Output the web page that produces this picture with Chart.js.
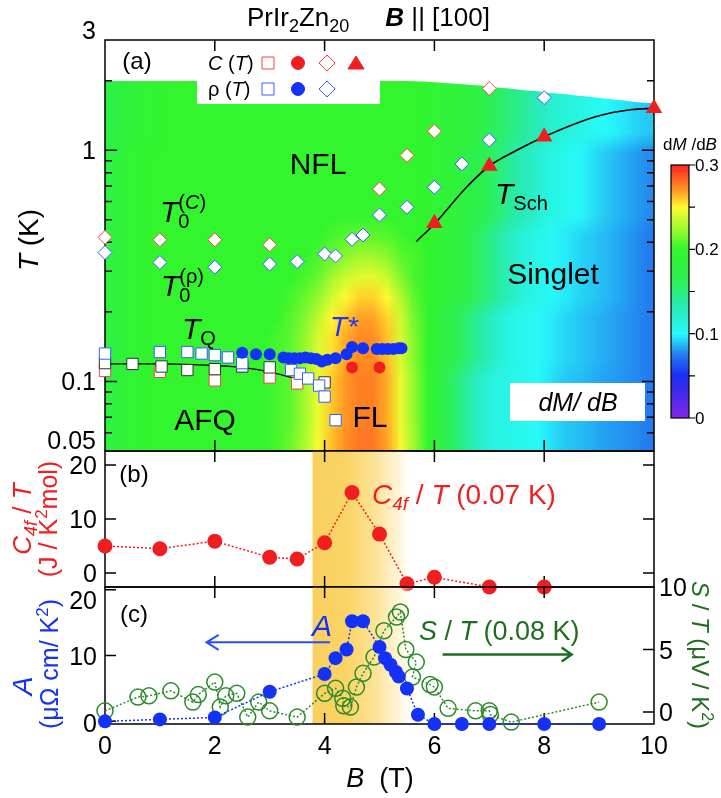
<!DOCTYPE html>
<html>
<head>
<meta charset="utf-8">
<script src="https://cdn.jsdelivr.net/npm/chart.js"></script>
<style>
  html, body { margin: 0; padding: 0; background: #fff; }
  #wrap { position: relative; width: 721px; height: 798px; }
  #wrap canvas { position: absolute; left: 0; top: 0; }
</style>
</head>
<body>
<div id="wrap">
  <canvas id="chartA" width="721" height="798"></canvas>
  <canvas id="chartB" width="721" height="798"></canvas>
  <canvas id="chartC" width="721" height="798"></canvas>
</div>
<script>
/* PrIr2Zn20, B || [100] : phase diagram (a), C4f/T (b), A and S/T (c) */

const FONT = '"Liberation Sans", Arial, Helvetica, sans-serif';
const RED = '#f01e1e', BLUE = '#1432f5', GREEN = '#2b8a2b';

// ---- axes
const bTicks = [0, 2, 4, 6, 8, 10];
const tTicksA = [0.05, 0.1, 1, 3];
const tMinorA = [0.06, 0.07, 0.08, 0.09, 0.2, 0.3, 0.4, 0.5, 0.6, 0.7, 0.8, 0.9, 2];
const c4fTicks = [0, 10, 20];
const aTicks = [0, 10, 20];
const stTicks = [0, 5, 10];
const cbarTicks = [0, 0.05, 0.1, 0.15, 0.2, 0.25, 0.3];
const cbarLabels = [0, 0.1, 0.2, 0.3];

// ---- panel (a) points
const tcB = [0, 1, 2, 3, 5, 5.5, 6, 7];                      // T0(C), open red diamonds
const tcT = [0.42, 0.41, 0.41, 0.39, 0.68, 0.95, 1.21, 1.85];
const trB = [0, 1, 2, 3, 3.5, 4, 4.2, 4.5, 4.7, 5, 5.5, 6, 6.5, 7, 8];   // T0(rho), open blue diamonds
const trT = [0.361, 0.327, 0.312, 0.322, 0.330, 0.356, 0.349, 0.412, 0.430, 0.525, 0.567, 0.692, 0.873, 1.108, 1.69];
const tschB = [6, 7, 8, 10];                                 // T_Sch, red triangles
const tschT = [0.483, 0.855, 1.145, 1.52];
const tschFitB = [5.67, 6.0, 6.58, 7.0, 7.5, 8.0, 8.95, 9.6, 10];
const tschFitT = [0.403, 0.48, 0.69, 0.855, 1.0, 1.145, 1.40, 1.50, 1.52];
const tstarB = [2.5, 2.75, 3.0, 3.25, 3.35, 3.45, 3.55, 3.65, 3.75, 3.85, 3.95, 4.05, 4.2, 4.4, 4.5, 4.7, 4.95, 5.05, 5.15, 5.25, 5.35, 5.4];
const tstarT = [0.133, 0.131, 0.131, 0.127, 0.126, 0.126, 0.126, 0.127, 0.126, 0.125, 0.122, 0.124, 0.126, 0.131, 0.141, 0.139, 0.138, 0.138, 0.138, 0.138, 0.139, 0.139];
const tflB = [4.5, 5.0];                                     // red filled circles
const tflT = [0.115, 0.115];
const sqBlueB = [0, 1, 1.5, 1.76, 2, 2.24, 2.5, 3.39, 3.55, 3.7, 3.9, 4.0, 4.2];
const sqBlueT = [0.132, 0.134, 0.134, 0.132, 0.130, 0.127, 0.120, 0.112, 0.108, 0.103, 0.096, 0.086, 0.068];
const sqBlackB = [0, 0.5, 1.03, 1.5, 2, 2.5, 3, 4.0];
const sqBlackT = [0.120, 0.119, 0.116, 0.112, 0.113, 0.116, 0.115, 0.099];
const sqRedB = [0, 1, 2, 3, 3.5];
const sqRedT = [0.111, 0.110, 0.101, 0.104, 0.098];
const tqFitB = [0, 1, 2, 2.5, 3, 3.45];
const tqFitT = [0.119, 0.119, 0.117, 0.115, 0.110, 0.103];

// ---- panel (a) dM/dB map: column edges in B, row edges in T, one row per T band (bottom first)
const heatB = [0, 0.25, 0.5, 0.75, 1, 1.25, 1.5, 1.75, 2, 2.25, 2.5, 2.75, 3, 3.25, 3.5, 3.75, 4, 4.25, 4.5, 4.75,
               5, 5.25, 5.5, 5.75, 6, 6.25, 6.5, 6.75, 7, 7.25, 7.5, 7.75, 8, 8.25, 8.5, 8.75, 9, 9.25, 9.5, 9.75, 10];
const heatT = [0.05, 0.0614, 0.0753, 0.0925, 0.1135, 0.139, 0.171, 0.21, 0.258, 0.316, 0.388, 0.476, 0.585, 0.718, 0.881, 1.08, 1.33, 1.63, 2.0];
const heatTop = [2, 2, 2, 2, 2, 2, 2, 2, 2, 2, 2, 2, 2, 2, 2, 2, 2, 2, 2, 2, 2, 2,
                 1.99, 1.98, 1.96, 1.94, 1.92, 1.9, 1.87, 1.85, 1.82, 1.8, 1.77, 1.75, 1.72, 1.7, 1.67, 1.65, 1.62, 1.6];
const heatRows = [
  [0.18,0.19,0.195,0.2,0.2,0.2,0.2,0.2,0.2,0.2,0.2,0.2, 0.205,0.213,0.228,0.248,0.262,0.272,0.278,0.278,0.268,0.248, 0.224,0.198,0.175,0.155,0.135,0.12,0.11,0.108,0.105,0.1,0.095,0.09,0.088,0.085,0.082,0.08,0.078,0.075],
  [0.18,0.19,0.195,0.2,0.2,0.2,0.2,0.2,0.2,0.2,0.2,0.2, 0.205,0.21,0.225,0.245,0.26,0.27,0.276,0.276,0.266,0.245, 0.222,0.197,0.175,0.155,0.135,0.12,0.11,0.108,0.105,0.1,0.095,0.09,0.088,0.085,0.082,0.08,0.078,0.075],
  [0.18,0.19,0.195,0.2,0.2,0.2,0.2,0.2,0.2,0.2,0.2,0.2, 0.205,0.21,0.225,0.245,0.26,0.27,0.276,0.276,0.266,0.245, 0.222,0.197,0.175,0.155,0.135,0.12,0.11,0.108,0.105,0.1,0.095,0.09,0.088,0.085,0.082,0.08,0.078,0.075],
  [0.18,0.19,0.195,0.2,0.2,0.2,0.2,0.2,0.2,0.2,0.2,0.2, 0.205,0.21,0.225,0.245,0.26,0.27,0.276,0.276,0.266,0.245, 0.222,0.197,0.175,0.155,0.135,0.12,0.11,0.108,0.105,0.1,0.095,0.09,0.088,0.085,0.082,0.08,0.078,0.075],
  [0.18,0.19,0.195,0.2,0.2,0.2,0.2,0.2,0.2,0.2,0.2,0.2, 0.205,0.21,0.222,0.24,0.255,0.266,0.273,0.273,0.262,0.24, 0.218,0.2,0.18,0.165,0.15,0.135,0.12,0.11,0.105,0.1,0.097,0.093,0.09,0.087,0.084,0.081,0.078,0.075],
  [0.18,0.19,0.195,0.2,0.2,0.2,0.2,0.2,0.2,0.2,0.2,0.2, 0.205,0.21,0.222,0.24,0.255,0.266,0.273,0.273,0.262,0.24, 0.218,0.2,0.18,0.165,0.15,0.135,0.12,0.11,0.105,0.1,0.097,0.093,0.09,0.087,0.084,0.081,0.078,0.075],
  [0.18,0.19,0.195,0.2,0.2,0.2,0.2,0.2,0.2,0.2,0.2,0.2, 0.2,0.208,0.218,0.232,0.25,0.26,0.268,0.268,0.258,0.238, 0.215,0.2,0.18,0.165,0.15,0.135,0.12,0.11,0.105,0.1,0.097,0.093,0.09,0.087,0.084,0.081,0.078,0.075],
  [0.18,0.19,0.195,0.2,0.2,0.2,0.2,0.2,0.2,0.2,0.2,0.2, 0.2,0.205,0.212,0.222,0.238,0.25,0.258,0.258,0.25,0.23, 0.21,0.2,0.19,0.18,0.17,0.155,0.14,0.125,0.115,0.108,0.102,0.097,0.093,0.09,0.087,0.083,0.079,0.075],
  [0.18,0.19,0.195,0.2,0.2,0.2,0.2,0.2,0.2,0.2,0.2,0.2, 0.2,0.2,0.205,0.212,0.225,0.235,0.242,0.242,0.235,0.218, 0.205,0.2,0.19,0.18,0.17,0.155,0.14,0.125,0.115,0.108,0.102,0.097,0.093,0.09,0.087,0.083,0.079,0.075],
  [0.18,0.19,0.195,0.2,0.2,0.2,0.2,0.2,0.2,0.2,0.2,0.2, 0.2,0.2,0.2,0.205,0.212,0.22,0.225,0.225,0.22,0.21, 0.205,0.2,0.19,0.18,0.17,0.155,0.14,0.125,0.115,0.108,0.102,0.097,0.093,0.09,0.087,0.083,0.079,0.075],
  [0.18,0.19,0.195,0.2,0.2,0.2,0.2,0.2,0.2,0.2,0.2,0.2, 0.2,0.2,0.2,0.2,0.205,0.208,0.21,0.21,0.208,0.203, 0.2,0.2,0.19,0.18,0.17,0.155,0.14,0.125,0.115,0.108,0.102,0.097,0.093,0.09,0.087,0.083,0.079,0.075],
  [0.18,0.19,0.195,0.2,0.2,0.2,0.2,0.2,0.2,0.2,0.2,0.2, 0.2,0.2,0.2,0.2,0.2,0.2,0.2,0.2,0.2,0.2, 0.2,0.195,0.19,0.185,0.175,0.165,0.155,0.14,0.13,0.12,0.11,0.105,0.1,0.095,0.09,0.086,0.082,0.078],
  [0.18,0.19,0.195,0.2,0.2,0.2,0.2,0.2,0.2,0.2,0.2,0.2, 0.2,0.2,0.2,0.2,0.2,0.2,0.2,0.2,0.2,0.2, 0.2,0.195,0.19,0.185,0.175,0.165,0.155,0.14,0.13,0.12,0.11,0.105,0.1,0.095,0.09,0.086,0.082,0.078],
  [0.18,0.19,0.195,0.2,0.2,0.2,0.2,0.2,0.2,0.2,0.2,0.2, 0.2,0.2,0.2,0.2,0.2,0.2,0.2,0.2,0.2,0.2, 0.2,0.195,0.19,0.185,0.175,0.165,0.155,0.14,0.13,0.12,0.11,0.105,0.1,0.095,0.09,0.086,0.082,0.078],
  [0.18,0.19,0.195,0.2,0.2,0.2,0.2,0.2,0.2,0.2,0.2,0.2, 0.2,0.2,0.2,0.2,0.2,0.2,0.2,0.2,0.2,0.2, 0.2,0.195,0.19,0.185,0.175,0.165,0.155,0.14,0.13,0.12,0.11,0.105,0.1,0.095,0.09,0.086,0.082,0.078],
  [0.175,0.182,0.19,0.195,0.2,0.2,0.2,0.2,0.2,0.2,0.2,0.2, 0.2,0.2,0.2,0.2,0.2,0.2,0.2,0.2,0.2,0.2, 0.2,0.195,0.19,0.185,0.18,0.17,0.16,0.15,0.14,0.13,0.12,0.115,0.11,0.105,0.1,0.097,0.093,0.09],
  [0.175,0.182,0.19,0.195,0.2,0.2,0.2,0.2,0.2,0.2,0.2,0.2, 0.2,0.2,0.2,0.2,0.2,0.2,0.2,0.2,0.2,0.2, 0.2,0.195,0.19,0.185,0.18,0.17,0.16,0.15,0.14,0.13,0.12,0.115,0.11,0.105,0.1,0.097,0.093,0.09],
  [0.175,0.182,0.19,0.195,0.2,0.2,0.2,0.2,0.2,0.2,0.2,0.2, 0.2,0.2,0.2,0.2,0.2,0.2,0.2,0.2,0.2,0.2, 0.2,0.195,0.19,0.185,0.18,0.17,0.16,0.15,0.14,0.13,0.12,0.115,0.11,0.105,0.1,0.097,0.093,0.09]
];

// colour scale of dM/dB
const cmapV = [0, 0.05, 0.075, 0.1, 0.13, 0.165, 0.2, 0.225, 0.25, 0.27, 0.3];
const cmapC = [[130,40,230],[25,45,245],[35,125,240],[40,250,250],[40,235,185],[45,240,80],[50,245,45],[160,250,45],[255,250,50],[255,150,35],[255,35,35]];

// ---- panel (b)
const c4fB = [0, 1, 2, 3, 3.5, 4, 4.5, 5, 5.5, 6, 7, 8];
const c4fV = [5.0, 4.5, 5.9, 2.9, 2.6, 5.6, 14.9, 7.2, -2.0, -0.8, -2.6, -2.6];

// ---- panel (c)
const aB = [0, 1, 2, 3, 4, 4.2, 4.4, 4.5, 4.7, 5.0, 5.1, 5.2, 5.3, 5.35, 5.5, 5.7, 6, 6.5, 7, 8, 9];
const aV = [0.0, 0.3, 0.6, 4.5, 7.2, 9.6, 10.9, 15.2, 15.2, 11.3, 9.6, 8.6, 7.5, 6.8, 5.0, 1.0, -0.4, -0.4, -0.4, -0.4, -0.4];
const stB = [0, 0.6, 0.8, 1.2, 1.6, 1.7, 2.0, 2.1, 2.2, 2.4, 2.6, 2.8, 3.0, 3.5, 4.0, 4.2, 4.33, 4.35, 4.47, 4.58, 4.7, 4.9, 5.08, 5.31, 5.38, 5.48, 5.67, 5.6, 5.92, 6.0, 6.25, 6.75, 7.0, 7.02, 7.4, 9.0];
const stV = [0.1, 1.2, 1.3, 1.7, 0.8, 1.4, 2.4, 0.4, 1.3, 1.5, -0.4, 0.8, 0.1, -0.4, 1.5, 1.9, 1.1, 0.5, 0.4, 2.0, 3.1, 4.4, 6.5, 7.6, 8.0, 5.0, 4.0, 2.8, 2.2, 2.0, 0.3, 0.1, 0.1, -0.2, -0.8, 0.8];

const bandB = [3.78, 5.64];   // shaded crossover region

// ---------- helpers
const pts = (xs, ys) => xs.map((x, i) => ({ x, y: ys[i] }));

function cmap(v) {
  let i = 1;
  while (i < cmapV.length - 1 && v > cmapV[i]) i++;
  const f = Math.max(0, Math.min(1, (v - cmapV[i - 1]) / (cmapV[i] - cmapV[i - 1])));
  const c = cmapC[i - 1].map((a, k) => Math.round(a + (cmapC[i][k] - a) * f));
  return `rgb(${c})`;
}

// rich text: parts = [[text, flags]] flags: i italic, b bold, _ sub, ^ sup, ! no advance
function rich(ctx, x, y, parts, size, o = {}) {
  ctx.save();
  ctx.translate(x, y);
  if (o.rot) ctx.rotate(o.rot);
  ctx.textBaseline = 'alphabetic';
  ctx.textAlign = 'left';
  const spans = parts.map(([t, f = '']) => {
    const small = f.includes('_') || f.includes('^');
    const sz = small ? Math.round(size * 0.68) : size;
    const font = (f.includes('i') ? 'italic ' : '') + (f.includes('b') ? 'bold ' : '') + sz + 'px ' + FONT;
    ctx.font = font;
    const w = ctx.measureText(t).width;
    return { t, font, adv: f.includes('!') ? 0 : w, dy: f.includes('_') ? size * 0.22 : f.includes('^') ? -size * 0.42 : 0 };
  });
  const total = spans.reduce((s, p) => s + p.adv, 0);
  let cx = o.al === 'left' ? 0 : o.al === 'right' ? -total : -total / 2;
  const base = size * 0.36;
  ctx.fillStyle = o.c || '#000';
  spans.forEach(p => { ctx.font = p.font; ctx.fillText(p.t, cx, base + p.dy); cx += p.adv; });
  ctx.restore();
}

function frame(ctx, a, x, sides) {
  ctx.strokeStyle = '#000';
  ctx.lineWidth = 1.5;
  ctx.beginPath();
  ctx.rect(a.left, a.top, a.right - a.left, a.bottom - a.top);
  bTicks.forEach(v => {
    if (v <= 0 || v >= 10) return;
    const px = x.getPixelForValue(v);
    ctx.moveTo(px, a.top); ctx.lineTo(px, a.top + 11);
    ctx.moveTo(px, a.bottom); ctx.lineTo(px, a.bottom - 11);
  });
  sides.forEach(([sc, list, side]) => list.forEach(([v, len]) => {
    const py = sc.getPixelForValue(v);
    const x0 = side === 'left' ? a.left : a.right;
    ctx.moveTo(x0, py); ctx.lineTo(side === 'left' ? x0 + len : x0 - len, py);
  }));
  ctx.stroke();
}

function band(ctx, x, a) {
  const x0 = x.getPixelForValue(bandB[0]), x1 = x.getPixelForValue(bandB[1]);
  const g = ctx.createLinearGradient(x0, 0, x1, 0);
  g.addColorStop(0, 'rgba(249,208,95,1)');
  g.addColorStop(0.35, 'rgba(250,212,102,1)');
  g.addColorStop(0.62, 'rgba(252,224,140,0.9)');
  g.addColorStop(0.85, 'rgba(254,240,200,0.7)');
  g.addColorStop(1, 'rgba(255,255,255,0)');
  ctx.fillStyle = g;
  ctx.fillRect(x0, a.top, x1 - x0, a.bottom - a.top);
}

function arrow(ctx, x0, x1, y, color, w, hl, hw) {
  const d = x1 > x0 ? -1 : 1;
  ctx.strokeStyle = color; ctx.lineWidth = w;
  ctx.beginPath();
  ctx.moveTo(x0, y); ctx.lineTo(x1, y);
  ctx.moveTo(x1 + d * hl, y - hw); ctx.lineTo(x1, y); ctx.lineTo(x1 + d * hl, y + hw);
  ctx.stroke();
}

function symbol(ctx, kind, x, y, fill, stroke) {
  ctx.beginPath();
  if (kind === 'square') ctx.rect(x - 6, y - 6, 12, 12);
  if (kind === 'circle') ctx.arc(x, y, 6.5, 0, Math.PI * 2);
  if (kind === 'diamond') { ctx.moveTo(x, y - 8); ctx.lineTo(x + 8, y); ctx.lineTo(x, y + 8); ctx.lineTo(x - 8, y); ctx.closePath(); }
  if (kind === 'triangle') { ctx.moveTo(x, y - 7); ctx.lineTo(x + 8, y + 6); ctx.lineTo(x - 8, y + 6); ctx.closePath(); }
  ctx.fillStyle = fill; ctx.fill();
  ctx.strokeStyle = stroke; ctx.lineWidth = 1; ctx.stroke();
}

const baseOptions = (padding, scales) => ({
  responsive: false, animation: false, devicePixelRatio: 1, events: [],
  layout: { padding, autoPadding: false },
  plugins: { legend: { display: false }, tooltip: { enabled: false } },
  scales
});

// ---------- panel (a)
const panelA = {
  id: 'panelA',
  beforeDatasetsDraw(chart) {
    const { ctx, chartArea: a, scales: { x, y } } = chart;
    // map cells -> one pixel each, then stretched over the B / log T extent of the grid
    const off = document.createElement('canvas');
    off.width = heatB.length - 1; off.height = heatRows.length;
    const octx = off.getContext('2d');
    heatRows.forEach((row, r) => row.forEach((v, c) => {
      octx.fillStyle = cmap(v);
      octx.fillRect(c, heatRows.length - 1 - r, 1, 1);
    }));
    const xl = x.getPixelForValue(heatB[0]), xr = x.getPixelForValue(heatB[heatB.length - 1]);
    const yb = y.getPixelForValue(heatT[0]), yt = y.getPixelForValue(heatT[heatT.length - 1]);
    ctx.save();
    ctx.beginPath();
    ctx.moveTo(xl, yb);
    ctx.lineTo(xl, y.getPixelForValue(heatTop[0]));
    heatTop.forEach((t, c) => ctx.lineTo(x.getPixelForValue((heatB[c] + heatB[c + 1]) / 2), y.getPixelForValue(t)));
    ctx.lineTo(xr, y.getPixelForValue(heatTop[heatTop.length - 1]));
    ctx.lineTo(xr, yb);
    ctx.closePath();
    ctx.clip();
    ctx.imageSmoothingEnabled = true;
    ctx.imageSmoothingQuality = 'low';
    ctx.drawImage(off, xl, yt, xr - xl, yb - yt);
    ctx.restore();

    ctx.save();
    ctx.fillStyle = '#fff';
    ctx.fillRect(197, a.top, 183, 64);      // legend box
    ctx.fillRect(510, 383, 135, 38);        // dM/dB box
    const tk = tTicksA.concat(tMinorA).map(v => [v, (v === 0.1 || v === 1) ? 12 : 7]);
    frame(ctx, a, x, [[y, tk, 'left'], [y, tk, 'right']]);
    ctx.restore();
  },
  afterDatasetsDraw(chart) {
    const { ctx, scales: { y } } = chart;
    ctx.save();
    const nudge = { 3: -10, 0.05: -11 };
    tTicksA.forEach(v => rich(ctx, 96, y.getPixelForValue(v) + (nudge[v] || 0), [[String(v)]], 25, { al: 'right' }));
    rich(ctx, 28, 240, [['T', 'i'], [' (K)']], 28, { rot: -Math.PI / 2 });
    rich(ctx, 247, 17, [['PrIr'], ['2', '_'], ['Zn'], ['20', '_'], ['     '], ['B', 'bi'], [' || [100]']], 26, { al: 'left' });

    // legend
    rich(ctx, 208, 63, [['C', 'i'], [' ('], ['T', 'i'], [')']], 20, { al: 'left' });
    rich(ctx, 208, 89, [['ρ'], [' ('], ['T', 'i'], [')']], 20, { al: 'left' });
    symbol(ctx, 'square', 268, 63, '#fff', '#f04646');
    symbol(ctx, 'circle', 298, 63, RED, RED);
    symbol(ctx, 'diamond', 327, 63, '#fff', '#f04646');
    symbol(ctx, 'triangle', 356, 63, RED, RED);
    symbol(ctx, 'square', 268, 89, '#fff', '#3a5cff');
    symbol(ctx, 'circle', 298, 89, BLUE, BLUE);
    symbol(ctx, 'diamond', 327, 89, '#fff', '#3a5cff');

    rich(ctx, 137, 60, [['(a)']], 24);
    rich(ctx, 318, 163, [['NFL']], 30);
    rich(ctx, 160, 211, [['T', 'i'], ['0', '_!'], ['(', '^'], ['C', '^i'], [')', '^']], 30, { al: 'left' });
    rich(ctx, 161, 285, [['T', 'i'], ['0', '_!'], ['(ρ)', '^']], 30, { al: 'left' });
    rich(ctx, 182, 328, [['T', 'i'], ['Q', '_']], 30, { al: 'left' });
    rich(ctx, 330, 326, [['T*', 'i']], 28, { al: 'left', c: '#2438f0' });
    rich(ctx, 205, 419, [['AFQ']], 30);
    rich(ctx, 370, 416, [['FL']], 30);
    rich(ctx, 495, 193, [['T', 'i'], ['Sch', '_']], 30, { al: 'left' });
    rich(ctx, 553, 273, [['Singlet']], 30);
    rich(ctx, 578, 402, [['dM/ dB', 'i']], 25);

    // colour bar
    const cbTop = 165, cbBot = 418, cbL = 671, cbR = 689;
    const g = ctx.createLinearGradient(0, cbBot, 0, cbTop);
    cmapV.forEach((v, i) => g.addColorStop(v / 0.3, `rgb(${cmapC[i]})`));
    ctx.fillStyle = g;
    ctx.fillRect(cbL, cbTop, cbR - cbL, cbBot - cbTop);
    ctx.strokeStyle = '#000'; ctx.lineWidth = 1.2;
    ctx.strokeRect(cbL, cbTop, cbR - cbL, cbBot - cbTop);
    ctx.beginPath();
    cbarTicks.forEach(v => { const py = cbBot - v / 0.3 * (cbBot - cbTop); ctx.moveTo(cbR, py); ctx.lineTo(cbR + 6, py); });
    ctx.stroke();
    cbarLabels.forEach(v => rich(ctx, cbR + 6, cbBot - v / 0.3 * (cbBot - cbTop), [[String(v)]], 17, { al: 'left' }));
    rich(ctx, 690, 144, [['d'], ['M', 'i'], [' /d'], ['B', 'i']], 17);
    ctx.restore();
  }
};

const sq = (xs, ys, color, order) => ({ data: pts(xs, ys), pointStyle: 'rect', pointRadius: 8, pointBackgroundColor: '#fff', pointBorderColor: color, pointBorderWidth: 1, order, clip: false });

new Chart(document.getElementById('chartA'), {
  type: 'scatter',
  data: { datasets: [
    { data: pts(tschFitB, tschFitT), showLine: true, pointRadius: 0, borderColor: '#000', borderWidth: 1.6, cubicInterpolationMode: 'monotone', order: 5 },
    { data: pts(tqFitB, tqFitT), showLine: true, pointRadius: 0, borderColor: '#000', borderWidth: 1.3, cubicInterpolationMode: 'monotone', order: 10 },
    sq(sqRedB, sqRedT, '#f04646', 9),
    sq(sqBlackB, sqBlackT, '#333', 8),
    sq(sqBlueB, sqBlueT, '#3a5cff', 7),
    { data: pts(tstarB, tstarT), pointRadius: 6, pointBackgroundColor: BLUE, pointBorderColor: BLUE, pointBorderWidth: 0, order: 4, clip: false },
    { data: pts(tflB, tflT), pointRadius: 6, pointBackgroundColor: RED, pointBorderColor: RED, pointBorderWidth: 0, order: 3, clip: false },
    { data: pts(tcB, tcT), pointStyle: 'rectRot', pointRadius: 7, pointBackgroundColor: '#fff', pointBorderColor: '#f04646', pointBorderWidth: 1, order: 2, clip: false },
    { data: pts(trB, trT), pointStyle: 'rectRot', pointRadius: 7, pointBackgroundColor: '#fff', pointBorderColor: '#3a5cff', pointBorderWidth: 1, order: 2, clip: false },
    { data: pts(tschB, tschT), pointStyle: 'triangle', pointRadius: 9.5, pointBackgroundColor: RED, pointBorderColor: RED, pointBorderWidth: 0, order: 1, clip: false }
  ] },
  options: baseOptions({ left: 105, right: 67, top: 40, bottom: 347 }, {
    x: { type: 'linear', min: 0, max: 10, display: false },
    y: { type: 'logarithmic', min: 0.05, max: 3, display: false }
  }),
  plugins: [panelA]
});

// ---------- panel (b)
const panelB = {
  id: 'panelB',
  beforeDatasetsDraw(chart) {
    const { ctx, chartArea: a, scales: { x, y } } = chart;
    ctx.save();
    band(ctx, x, a);
    const tk = c4fTicks.map(v => [v, 11]);
    frame(ctx, a, x, [[y, tk, 'left'], [y, tk, 'right']]);
    ctx.restore();
  },
  afterDatasetsDraw(chart) {
    const { ctx, scales: { y } } = chart;
    ctx.save();
    c4fTicks.forEach(v => rich(ctx, 97, y.getPixelForValue(v), [[String(v)]], 25, { al: 'right' }));
    rich(ctx, 22, 519, [['C', 'i'], ['4f', '_i'], [' / '], ['T', 'i']], 26, { rot: -Math.PI / 2, c: RED });
    rich(ctx, 48, 519, [['(J / K'], ['2', '^'], ['mol)']], 25, { rot: -Math.PI / 2, c: RED });
    rich(ctx, 134, 473, [['(b)']], 24);
    rich(ctx, 372, 494, [['C', 'i'], ['4f', '_i'], [' / '], ['T', 'i'], [' (0.07 K)']], 28, { al: 'left', c: RED });
    ctx.restore();
  }
};

new Chart(document.getElementById('chartB'), {
  type: 'scatter',
  data: { datasets: [
    { data: pts(c4fB, c4fV), showLine: true, borderColor: RED, borderWidth: 1.5, borderDash: [2, 2],
      pointRadius: 7.5, pointBackgroundColor: RED, pointBorderColor: RED, pointBorderWidth: 0, clip: false }
  ] },
  options: baseOptions({ left: 105, right: 67, top: 451, bottom: 211 }, {
    x: { type: 'linear', min: 0, max: 10, display: false },
    y: { type: 'linear', min: -2.6, max: 22.6, display: false }
  }),
  plugins: [panelB]
});

// ---------- panel (c)
const panelC = {
  id: 'panelC',
  beforeDatasetsDraw(chart) {
    const { ctx, chartArea: a, scales: { x, y, y2 } } = chart;
    ctx.save();
    band(ctx, x, a);
    frame(ctx, a, x, [[y, aTicks.map(v => [v, 11]), 'left'], [y2, stTicks.map(v => [v, 11]), 'right']]);
    ctx.restore();
  },
  afterDatasetsDraw(chart) {
    const { ctx, scales: { x, y, y2 } } = chart;
    ctx.save();
    const nudge = { 20: 10, 0: 1.5 };
    aTicks.forEach(v => rich(ctx, 97, y.getPixelForValue(v) + (nudge[v] || 0), [[String(v)]], 25, { al: 'right' }));
    stTicks.forEach(v => rich(ctx, 659, y2.getPixelForValue(v), [[String(v)]], 25, { al: 'left' }));
    rich(ctx, 22, 686, [['A', 'i']], 28, { rot: -Math.PI / 2, c: BLUE });
    rich(ctx, 49, 664, [['(μΩ cm/ K'], ['2', '^'], [')']], 25, { rot: -Math.PI / 2, c: BLUE });
    rich(ctx, 701, 655, [['S', 'i'], [' / '], ['T', 'i'], [' (μV / K'], ['2', '^'], [')']], 24, { rot: Math.PI / 2, c: '#1e6e1e' });
    rich(ctx, 380, 777, [['B', 'i'], ['  (T)']], 27);
    rich(ctx, 134, 613, [['(c)']], 24);
    rich(ctx, 322, 625, [['A', 'i']], 30, { c: BLUE });
    rich(ctx, 419, 630, [['S', 'i'], [' / '], ['T', 'i'], [' (0.08 K)']], 27, { al: 'left', c: '#1e6e1e' });
    arrow(ctx, x.getPixelForValue(4.1), x.getPixelForValue(1.85), y.getPixelForValue(12), '#2a4cff', 2, 12, 7.5);
    arrow(ctx, x.getPixelForValue(6.15), x.getPixelForValue(8.5), y2.getPixelForValue(4.6), '#1f6e1f', 2.5, 10, 7);
    ctx.restore();
  }
};

new Chart(document.getElementById('chartC'), {
  type: 'scatter',
  data: { datasets: [
    { data: pts(aB, aV), yAxisID: 'y', showLine: true, borderColor: BLUE, borderWidth: 1.5, borderDash: [2, 2],
      pointRadius: 7, pointBackgroundColor: BLUE, pointBorderColor: BLUE, pointBorderWidth: 0, order: 1, clip: false },
    { data: pts(stB, stV), yAxisID: 'y2', showLine: true, borderColor: GREEN, borderWidth: 1.5, borderDash: [2, 2],
      pointRadius: 8, pointBackgroundColor: 'rgba(0,0,0,0)', pointBorderColor: GREEN, pointBorderWidth: 1.5, order: 2, clip: false }
  ] },
  options: baseOptions({ left: 105, right: 67, top: 587, bottom: 0 }, {
    x: { type: 'linear', min: 0, max: 10, position: 'bottom',
         afterBuildTicks: s => { s.ticks = bTicks.map(v => ({ value: v })); },
         afterFit: s => { s.height = 74; },
         grid: { display: false, drawTicks: false }, border: { display: false },
         ticks: { font: { size: 25, family: FONT }, color: '#000', padding: 8, maxRotation: 0, autoSkip: false } },
    y: { type: 'linear', min: -0.4, max: 20.4, display: false },
    y2: { type: 'linear', min: -0.95, max: 10, position: 'right', display: false }
  }),
  plugins: [panelC]
});
</script>
</body>
</html>
